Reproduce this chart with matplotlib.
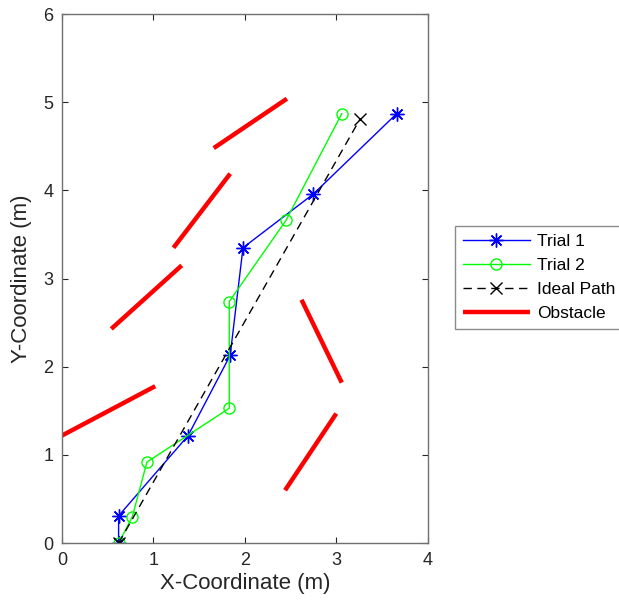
import numpy as np
import matplotlib
matplotlib.use("Agg")
import matplotlib.pyplot as plt

plt.rcParams['font.family'] = ['Liberation Sans', 'DejaVu Sans']

# Trial paths (metres)
trial1_x = [0.62, 0.62, 1.38, 1.84, 1.98, 2.75, 3.66]
trial1_y = [0.00, 0.31, 1.22, 2.13, 3.35, 3.96, 4.87]

trial2_x = [0.62, 0.77, 0.93, 1.83, 1.83, 2.45, 3.06]
trial2_y = [0.00, 0.30, 0.92, 1.53, 2.74, 3.66, 4.87]

ideal_x = [0.62, 3.26]
ideal_y = [0.00, 4.81]

# obstacle segments: (x0, y0, x1, y1)
obstacle_x0 = [1.66, 1.22, 0.54, 0.00, 2.62, 2.44]
obstacle_y0 = [4.48, 3.35, 2.43, 1.22, 2.76, 0.60]
obstacle_x1 = [2.46, 1.84, 1.31, 1.02, 3.06, 3.00]
obstacle_y1 = [5.04, 4.19, 3.15, 1.78, 1.82, 1.47]

fig = plt.figure(figsize=(6.19, 6.11), dpi=100)
ax = fig.add_axes([0.100, 0.111, 0.591, 0.866])

# MATLAB-style asterisk: 8 arms
ax.plot(trial1_x, trial1_y, '-', marker=(8, 2, 0), color='#0000ff', lw=1.0,
        markersize=10, markeredgewidth=1.0, label='Trial 1')
ax.plot(trial2_x, trial2_y, '-o', color='#00ff00', lw=1.0, markersize=8,
        markerfacecolor='none', markeredgewidth=1.0, label='Trial 2')
ax.plot(ideal_x, ideal_y, '--x', color='black', lw=1.0, markersize=8,
        dashes=(6, 4), markeredgewidth=1.0, label='Ideal Path')

for i in range(len(obstacle_x0)):
    ax.plot([obstacle_x0[i], obstacle_x1[i]], [obstacle_y0[i], obstacle_y1[i]],
            color='#ff0000', lw=3.2, solid_capstyle='butt',
            label='Obstacle' if i == 0 else None)

ax.set_xlim(0, 4)
ax.set_ylim(0, 6)
ax.set_xticks([0, 1, 2, 3, 4])
ax.set_yticks([0, 1, 2, 3, 4, 5, 6])
ax.set_xlabel('X-Coordinate (m)', fontsize=16, color='#262626', labelpad=3)
ax.set_ylabel('Y-Coordinate (m)', fontsize=16, color='#262626', labelpad=8)
ax.tick_params(direction='in', top=True, right=True, labelsize=13,
               colors='#262626', length=4, width=0.8, pad=6)
for s in ax.spines.values():
    s.set_color('#707070')
    s.set_linewidth(1.0)

leg = ax.legend(loc='upper left', bbox_to_anchor=(1.074, 0.599), fontsize=12.5,
                frameon=True, fancybox=False, handlelength=3.9,
                borderaxespad=0, labelspacing=0.5, handletextpad=0.4,
                borderpad=0.45)
leg.get_frame().set_edgecolor('#707070')
leg.get_frame().set_linewidth(1.0)

fig.savefig('out.png', dpi=100)
